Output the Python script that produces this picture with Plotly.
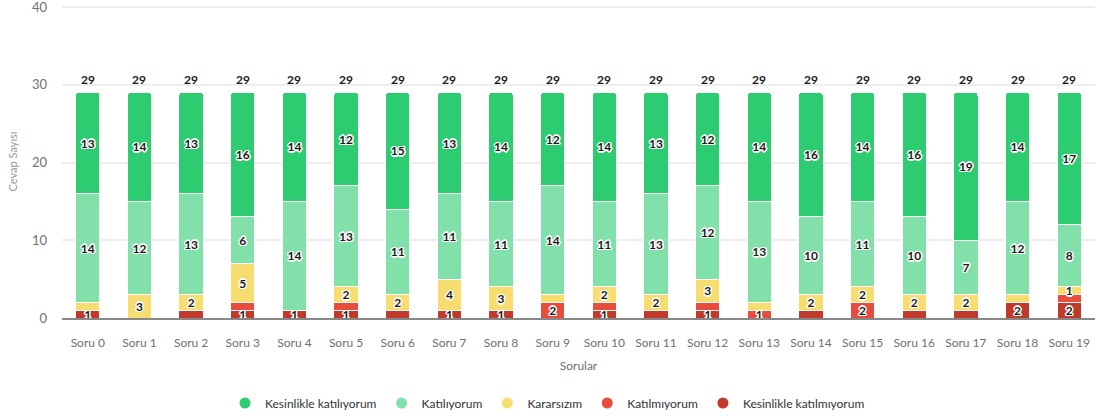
import plotly.graph_objects as go

categories = [f"Soru {i}" for i in range(20)]

series_names = ["Kesinlikle katılmıyorum", "Katılmıyorum", "Kararsızım", "Katılıyorum", "Kesinlikle katılıyorum"]
series_colors = ["#c0392b", "#e74c3c", "#f7dc6f", "#82e0aa", "#2ecc71"]

kesinlikle_katilmiyorum = [1, 0, 1, 1, 1, 1, 1, 1, 1, 0, 1, 1, 1, 0, 1, 0, 1, 1, 2, 2]
katilmiyorum            = [0, 0, 0, 1, 0, 1, 0, 0, 0, 2, 1, 0, 1, 1, 0, 2, 0, 0, 0, 1]
kararsizim              = [1, 3, 2, 5, 0, 2, 2, 4, 3, 1, 2, 2, 3, 1, 2, 2, 2, 2, 1, 1]
katiliyorum             = [14, 12, 13, 6, 14, 13, 11, 11, 11, 14, 11, 13, 12, 13, 10, 11, 10, 7, 12, 8]
kesinlikle_katiliyorum  = [13, 14, 13, 16, 14, 12, 15, 13, 14, 12, 14, 13, 12, 14, 16, 14, 16, 19, 14, 17]

series_values = [kesinlikle_katilmiyorum, katilmiyorum, kararsizim, katiliyorum, kesinlikle_katiliyorum]
totals = [sum(v[i] for v in series_values) for i in range(len(categories))]

# label overlap hiding (larger segment gets priority), in data units
MIN_GAP = 2.0
label_text = [[""] * len(categories) for _ in series_values]
for i in range(len(categories)):
    items = []
    base = 0
    for s, vals in enumerate(series_values):
        v = vals[i]
        if v > 0:
            items.append((s, v, base + v / 2))
        base += v
    order = sorted(range(len(items)), key=lambda k: -items[k][1])
    shown = []
    for k in order:
        s, v, c = items[k]
        if all(abs(c - c2) >= MIN_GAP for c2 in shown):
            shown.append(c)
            label_text[s][i] = str(v)

fig = go.Figure()
outline = ("-1px -1px 0 #fff, 1px -1px 0 #fff, -1px 1px 0 #fff, 1px 1px 0 #fff, "
           "0 1.5px 0 #fff, 0 -1.5px 0 #fff, 1.5px 0 0 #fff, -1.5px 0 0 #fff")
for s, vals in enumerate(series_values):
    fig.add_trace(go.Bar(
        x=categories, y=vals, name=series_names[s],
        marker=dict(color=series_colors[s], line=dict(color="#ffffff", width=1)),
        text=label_text[s], textposition="inside", insidetextanchor="middle",
        textangle=0, constraintext="none",
        textfont=dict(family="Lato", size=12, color="#1a1a1a", weight="bold", shadow=outline),
        showlegend=False, hoverinfo="x+y+name",
    ))

for cat, tot in zip(categories, totals):
    fig.add_annotation(
        x=cat, y=tot, text=str(tot), showarrow=False, yshift=13,
        font=dict(family="Lato", size=12, color="#1a1a1a", weight="bold"),
    )

for s in reversed(range(len(series_names))):
    fig.add_trace(go.Scatter(
        x=[categories[0]], y=[None], mode="markers", name=series_names[s],
        marker=dict(symbol="circle", size=11, color=series_colors[s]),
        showlegend=True, hoverinfo="skip",
    ))

fig.update_layout(
    width=1095, height=417,
    margin=dict(l=62, r=0, t=5, b=99, autoexpand=False),
    barmode="stack", bargap=0.53, barcornerradius=3,
    plot_bgcolor="#ffffff", paper_bgcolor="#ffffff",
    font=dict(family="Lato", color="#6e7079"),
    legend=dict(orientation="h", x=0.5, xanchor="center", xref="container",
                y=14 / 417, yanchor="middle", yref="container",
                font=dict(size=12, color="#333"), traceorder="normal"),
    xaxis=dict(
        type="category", categoryorder="array", categoryarray=categories,
        range=[-0.5, len(categories) - 0.5],
        showgrid=False, showline=True, linecolor="#888", linewidth=2,
        ticks="", tickfont=dict(size=12, color="#6e7079"), ticklabelstandoff=13,
        automargin=False,
        title=dict(text="Sorular", font=dict(size=12, color="#6e7079"), standoff=12),
    ),
    yaxis=dict(
        range=[0, 40.26], tickvals=[0, 10, 20, 30, 40], showgrid=True, gridcolor="#eeeeee", gridwidth=1.5,
        zeroline=False, showline=False, ticks="", automargin=False, ticklabeloverflow="allow",
        tickfont=dict(size=13, color="#6e7079"), ticklabelstandoff=14,
        title=dict(text="Cevap Sayısı", font=dict(size=11, color="#999"), standoff=12),
    ),
)

fig.write_html("out.html", config={"displayModeBar": False},
               post_script="document.body.style.margin='0';")
